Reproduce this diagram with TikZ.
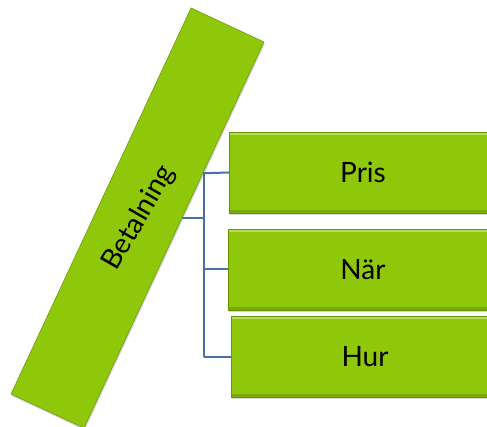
\documentclass[tikz,border=0pt]{standalone}
\usepackage{fontspec}
\setmainfont{Lato}
\usetikzlibrary{calc,shadows}
\definecolor{leaf}{RGB}{143,200,10}
\definecolor{leafdark}{RGB}{105,150,0}
\definecolor{linkblue}{RGB}{74,111,165}
\tikzset{
  greenbox/.style={rectangle, fill=leaf, draw=leafdark, line width=0.5pt,
    drop shadow={opacity=0.35, shadow xshift=0.8pt, shadow yshift=-2pt},
    font=\fontsize{28}{34}\selectfont, text=black, inner sep=0pt},
  leafbox/.style={greenbox, minimum width=268, minimum height=81, anchor=west,
    path picture={
      \fill[white,opacity=0.35] (path picture bounding box.north west) rectangle ([yshift=-3pt]path picture bounding box.north east);
      \fill[black,opacity=0.15] (path picture bounding box.south west) rectangle ([yshift=3pt]path picture bounding box.south east);}},
  link/.style={draw=linkblue, line width=2pt}
}
\begin{document}
\begin{tikzpicture}[x=1pt,y=1pt]
\useasboundingbox (0,0) rectangle (487,427);
\clip (0,0) rectangle (487,427);
\node[greenbox, rotate=65, minimum width=426, minimum height=80.5] (bar) at (137.5,209) {};
\node[rotate=60, font=\fontsize{28}{34}\selectfont] (bartext) at (139,209) {Betalning};
\node[leafbox] (pris) at (229,254.5) {};
\node[leafbox] (nar) at (228,157.5) {};
\node[leafbox] (hur) at (231,70) {};
\node[font=\fontsize{28}{34}\selectfont] (prist) at (363,254.5) {Pris};
\node[font=\fontsize{28}{34}\selectfont] (nart) at (363,157.5) {När};
\node[font=\fontsize{28}{34}\selectfont] (hurt) at (365,70) {Hur};
\coordinate (ba) at ($(bar.south east)!0.34!(bar.south west)$);
\coordinate (bb) at ($(bar.south east)!0.457!(bar.south west)$);
\coordinate (j) at (204,0);
\draw[link] (ba) -- (pris.west);
\draw[link] (bb) -- (bb -| j);
\draw[link] (j |- pris.west) -- (j |- hur.west);
\draw[link] (j |- nar.west) -- (nar.west);
\draw[link] (j |- hur.west) -- (hur.west);
\end{tikzpicture}
\end{document}
